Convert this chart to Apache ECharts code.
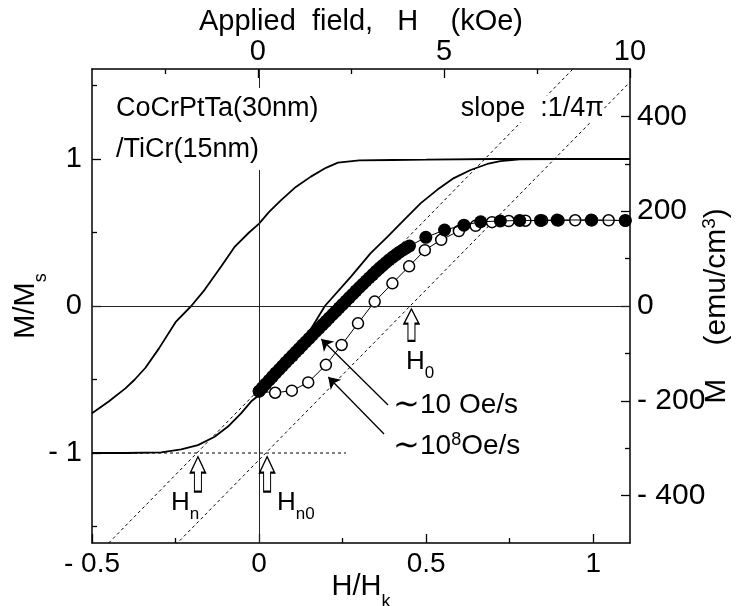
<!DOCTYPE html>
<html><head><meta charset="utf-8">
<script src="https://cdn.jsdelivr.net/npm/echarts@6/dist/echarts.min.js"></script>
<style>html,body{margin:0;padding:0;background:#fff}#c{width:742px;height:606px}</style>
</head><body><div id="c"></div>
<script>
// ---- data (H/Hk , M/Ms) ----
// major loop, descending branch (upper)
const descH = [1.11, 0.9, 0.7, 0.5, 0.4, 0.3, 0.236, 0.2, 0.155, 0.11, 0.066, 0.03, 0, -0.03, -0.074, -0.113, -0.163, -0.203, -0.25, -0.30, -0.34, -0.372, -0.40, -0.45, -0.5];
const descM = [1.0, 1.0, 1.0, 0.995, 0.993, 0.99, 0.975, 0.94, 0.88, 0.81, 0.72, 0.64, 0.56, 0.50, 0.40, 0.27, 0.11, 0.0, -0.11, -0.29, -0.42, -0.50, -0.56, -0.65, -0.73];
// major loop, ascending branch (lower)
const ascH = [-0.5, -0.4, -0.293, -0.233, -0.183, -0.133, -0.093, -0.054, -0.024, 0, 0.05, 0.1, 0.146, 0.197, 0.275, 0.334, 0.384, 0.434, 0.484, 0.533, 0.583, 0.633, 0.683, 0.722, 0.78, 0.9, 1.11];
const ascM = [-1.0, -1.0, -0.995, -0.975, -0.946, -0.889, -0.82, -0.73, -0.65, -0.605, -0.47, -0.33, -0.19, 0.0, 0.2, 0.36, 0.47, 0.585, 0.70, 0.79, 0.87, 0.925, 0.966, 0.985, 0.998, 1.0, 1.0];
// ~10 Oe/s (filled circles)
const slowH = [0, 0.01, 0.02, 0.03, 0.04, 0.05, 0.06, 0.07, 0.08, 0.09, 0.10, 0.11, 0.12, 0.13, 0.14, 0.15, 0.16, 0.17, 0.18, 0.19, 0.20, 0.21, 0.22, 0.23, 0.24, 0.25, 0.26, 0.27, 0.28, 0.29, 0.30, 0.31, 0.32, 0.33, 0.34, 0.35, 0.36, 0.37, 0.38, 0.39, 0.40, 0.41, 0.42, 0.43, 0.44, 0.45, 0.499, 0.555, 0.613, 0.663, 0.722, 0.78, 0.842, 0.892, 0.994, 1.096];
const slowM = [-0.58, -0.555, -0.53, -0.505, -0.48, -0.455, -0.432, -0.408, -0.384, -0.36, -0.337, -0.313, -0.29, -0.266, -0.243, -0.22, -0.196, -0.173, -0.15, -0.127, -0.104, -0.081, -0.058, -0.035, -0.012, 0.011, 0.034, 0.057, 0.08, 0.103, 0.126, 0.148, 0.17, 0.192, 0.214, 0.236, 0.256, 0.276, 0.296, 0.315, 0.333, 0.35, 0.366, 0.381, 0.395, 0.408, 0.467, 0.517, 0.55, 0.573, 0.578, 0.582, 0.582, 0.585, 0.585, 0.582];
// ~1e8 Oe/s (open circles)
const fastH = [0, 0.048, 0.098, 0.147, 0.2, 0.247, 0.296, 0.346, 0.399, 0.449, 0.496, 0.545, 0.598, 0.648, 0.697, 0.747, 0.797, 0.847, 0.896, 0.946, 0.996, 1.046, 1.096];
const fastM = [-0.58, -0.59, -0.576, -0.52, -0.40, -0.265, -0.118, 0.03, 0.154, 0.27, 0.38, 0.45, 0.51, 0.545, 0.57, 0.578, 0.58, 0.582, 0.582, 0.583, 0.583, 0.583, 0.58];
// slope 1/4pi guide lines and M=-1 guide
const slopeAH = [-0.45, 0.96];
const slopeAM = [-1.612, 1.66];
const slopeBH = [-0.25, 1.11];
const slopeBM = [-1.625, 1.523];
const guideH = [-0.5, 0.26];
const guideM = [-1, -1];
// marker positions (H/Hk)
const Hn = -0.183, Hn0 = 0.024, H0 = 0.456;
// ticks
const bottomTicks = [-0.5, 0, 0.5, 1];
const bottomMinor = [-0.25, 0.25, 0.75];
const topTicks = [0, 5, 10];
const topMinor = [-2.5, 2.5, 7.5];
const leftTicks = [-1, 0, 1];
const leftMinor = [-1.5, -0.5, 0.5, 1.5];
const rightTicks = [-400, -200, 0, 200, 400];
const rightMinor = [-300, -100, 100, 300];

const FONT = '"Liberation Sans", Arial, Helvetica, sans-serif';
const zip = (a, b) => a.map((v, i) => [v, b[i]]);
const fmt = v => (v < 0 ? '- ' + Math.abs(v) : String(v));

function axis(pos, min, max, ticks, minor, extra) {
  const base = {
    type: 'value', position: pos, min: min, max: max,
    splitLine: { show: false },
    axisLine: { show: !minor, onZero: false, lineStyle: { color: '#000', width: 1.5 } },
    axisTick: { show: true, inside: true, length: minor ? 5 : 9, customValues: ticks, lineStyle: { color: '#000', width: 1.3 } },
    axisLabel: { show: false },
    nameMoveOverlap: false
  };
  return Object.assign(base, extra || {});
}
function lab(ticks, size, margin) {
  return { show: true, customValues: ticks, formatter: fmt, color: '#000', fontSize: size, fontFamily: FONT, margin: margin };
}

const chart = echarts.init(document.getElementById('c'), null, { renderer: 'canvas' });
const black = '#000';
const subRich = { fontSize: 18, lineHeight: 18, verticalAlign: 'top', padding: [22, 0, 0, 0], fontFamily: FONT };
const option = {
  animation: false,
  backgroundColor: '#fff',
  textStyle: { fontFamily: FONT },
  grid: { left: 92, top: 69, right: 112, bottom: 63, containLabel: false, outerBoundsMode: 'none' },
  xAxis: [
    axis('bottom', -0.5, 1.11, bottomTicks, false, {
      name: 'H/H{s|k}', nameLocation: 'middle', nameGap: 28,
      axisLabel: lab(bottomTicks, 28, 7),
      nameTextStyle: { color: '#000', fontSize: 29, fontFamily: FONT, lineHeight: 32, rich: { s: subRich } }
    }),
    axis('bottom', -0.5, 1.11, bottomMinor, true),
    axis('top', -4.46, 10, topTicks, false, {
      name: 'Applied  field,   H    (kOe)', nameLocation: 'middle', nameGap: 33,
      axisLabel: lab(topTicks, 29, 3),
      nameTextStyle: { color: '#000', fontSize: 29, fontFamily: FONT }
    }),
    axis('top', -4.46, 10, topMinor, true)
  ],
  yAxis: [
    axis('left', -1.612, 1.612, leftTicks, false, {
      name: 'M/M{s|s}', nameLocation: 'middle', nameGap: 50, nameRotate: 90,
      axisLabel: lab(leftTicks, 29, 10),
      nameTextStyle: { color: '#000', fontSize: 29, fontFamily: FONT, lineHeight: 32, rich: { s: subRich } }
    }),
    axis('left', -1.612, 1.612, leftMinor, true),
    axis('right', -500, 500, rightTicks, false, {
      name: 'M    (emu/cm{p|3})', nameLocation: 'middle', nameGap: 70, nameRotate: 90,
      axisLabel: lab(rightTicks, 30, 7),
      nameTextStyle: { color: '#000', fontSize: 30, fontFamily: FONT, lineHeight: 34,
        rich: { p: { fontSize: 19, lineHeight: 19, verticalAlign: 'top', padding: [0, 0, 0, 0], fontFamily: FONT } } }
    }),
    axis('right', -500, 500, rightMinor, true)
  ],
  series: [
    {
      type: 'line', data: zip(descH, descM), showSymbol: false, symbol: 'none',
      lineStyle: { color: black, width: 1.8 }, z: 3,
      markLine: {
        silent: true, symbol: ['none', 'none'], label: { show: false },
        lineStyle: { color: '#222', width: 1, type: 'solid' },
        data: [{ xAxis: 0 }, { yAxis: 0 }]
      }
    },
    { type: 'line', data: zip(ascH, ascM), showSymbol: false, symbol: 'none', lineStyle: { color: black, width: 1.8 }, z: 3 },
    { type: 'line', data: zip(slopeAH, slopeAM), showSymbol: false, symbol: 'none', lineStyle: { color: black, width: 1, type: [3, 3] }, z: 2 },
    { type: 'line', data: zip(slopeBH, slopeBM), showSymbol: false, symbol: 'none', lineStyle: { color: black, width: 1, type: [3, 3] }, z: 2 },
    {
      type: 'line', data: zip(guideH, guideM), showSymbol: false, symbol: 'none', lineStyle: { color: black, width: 1, type: [3, 3] }, z: 2,
      markPoint: {
        silent: true,
        symbol: 'path://M7.5,0 L15,16 L11,16 L11,35 L4,35 L4,16 L0,16 Z',
        symbolKeepAspect: false,
        itemStyle: { color: '#fff', borderColor: black, borderWidth: 1.5 },
        label: { show: false },
        data: [
          { coord: [Hn, -1.025], symbolSize: [15, 35], symbolOffset: [0, '50%'] },
          { coord: [Hn0, -1.025], symbolSize: [15, 35], symbolOffset: [0, '50%'] },
          { coord: [H0, -0.02], symbolSize: [15, 32], symbolOffset: [0, '50%'] }
        ]
      },
      markLine: {
        silent: true, symbol: ['none', 'arrow'], symbolSize: 11, label: { show: false },
        lineStyle: { color: black, width: 1.3, type: 'solid' },
        data: [
          [{ coord: [0.386, -0.673] }, { coord: [0.186, -0.224] }],
          [{ coord: [0.374, -0.871] }, { coord: [0.207, -0.483] }]
        ]
      }
    },
    {
      type: 'line', data: zip(fastH, fastM), symbol: 'circle', symbolSize: 11, showSymbol: true,
      itemStyle: { color: '#fff', borderColor: black, borderWidth: 1.5 },
      lineStyle: { color: black, width: 1 }, z: 4
    },
    {
      type: 'line', data: zip(slowH, slowM), symbol: 'circle', symbolSize: 13, showSymbol: true,
      itemStyle: { color: black, borderColor: black, borderWidth: 0 },
      lineStyle: { color: black, width: 1 }, z: 5
    }
  ],
  graphic: [
    { type: 'text', x: 116, y: 88, z: 10, style: { text: 'CoCrPtTa(30nm)\n/TiCr(15nm)', fontSize: 27, lineHeight: 41, fontFamily: FONT, fill: black, backgroundColor: '#fff', align: 'left', verticalAlign: 'top' } },
    { type: 'text', x: 604, y: 109, z: 10, style: { text: 'slope  :1/4π', fontSize: 27, fontFamily: FONT, fill: black, backgroundColor: '#fff', align: 'right', verticalAlign: 'middle' } },
    { type: 'text', x: 171, y: 503, z: 10, style: { text: '{m|H}{s|n}', fill: black, align: 'left', verticalAlign: 'middle',
        rich: { m: { fontSize: 26, lineHeight: 30, fontFamily: FONT }, s: { fontSize: 17, lineHeight: 17, verticalAlign: 'top', padding: [18, 0, 0, 0], fontFamily: FONT } } } },
    { type: 'text', x: 277, y: 503, z: 10, style: { text: '{m|H}{s|n0}', fill: black, align: 'left', verticalAlign: 'middle',
        rich: { m: { fontSize: 26, lineHeight: 30, fontFamily: FONT }, s: { fontSize: 17, lineHeight: 17, verticalAlign: 'top', padding: [18, 0, 0, 0], fontFamily: FONT } } } },
    { type: 'text', x: 406, y: 362, z: 10, style: { text: '{m|H}{s|0}', fill: black, align: 'left', verticalAlign: 'middle',
        rich: { m: { fontSize: 26, lineHeight: 30, fontFamily: FONT }, s: { fontSize: 17, lineHeight: 17, verticalAlign: 'top', padding: [18, 0, 0, 0], fontFamily: FONT } } } },
    { type: 'text', x: 393, y: 405, z: 10, style: { text: '{t|∼}{m|10 Oe/s}', fill: black, align: 'left', verticalAlign: 'middle',
        rich: { t: { fontSize: 32, lineHeight: 30, fontFamily: FONT }, m: { fontSize: 28, lineHeight: 30, fontFamily: FONT } } } },
    { type: 'text', x: 393, y: 446, z: 10, style: { text: '{t|∼}{m|10}{p|8}{m|Oe/s}', fill: black, align: 'left', verticalAlign: 'middle',
        rich: { t: { fontSize: 32, lineHeight: 30, fontFamily: FONT }, m: { fontSize: 28, lineHeight: 30, fontFamily: FONT }, p: { fontSize: 18, lineHeight: 18, verticalAlign: 'top', padding: [0, 0, 0, 0], fontFamily: FONT } } } }
  ]
};
chart.setOption(option);
</script>
</body></html>
